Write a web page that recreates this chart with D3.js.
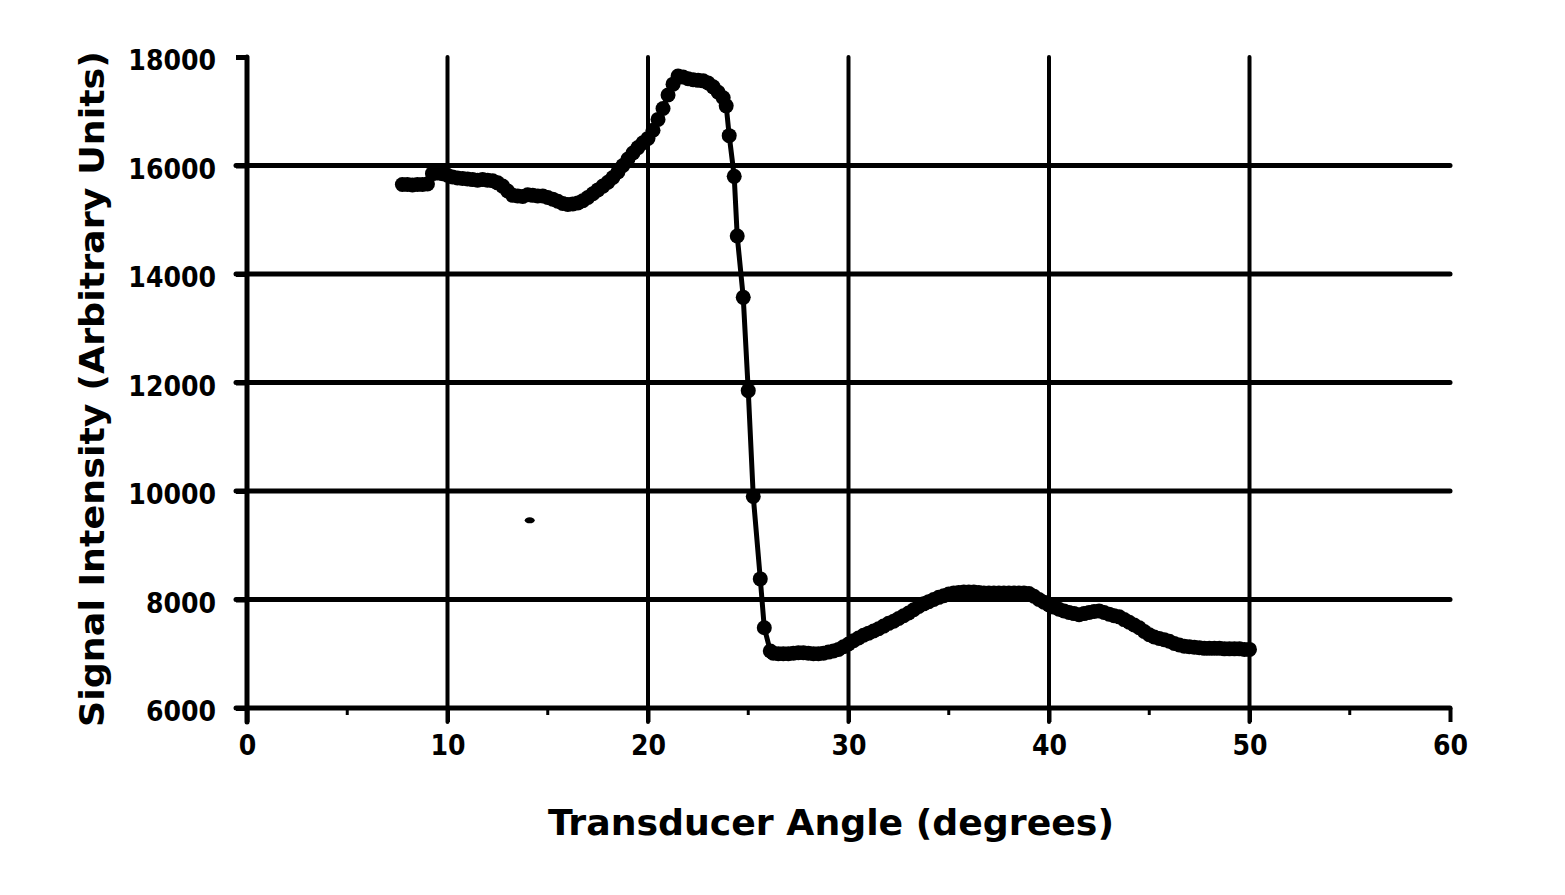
<!DOCTYPE html>
<html>
<head>
<meta charset="utf-8">
<script src="https://cdn.jsdelivr.net/npm/d3@7"></script>
<style>
  html, body { margin: 0; padding: 0; background: #fff; }
  svg { display: block; }
</style>
</head>
<body>
<svg id="chart" width="1565" height="895"></svg>
<script>
// ---- data ----
const angle = [
  7.75, 8.0, 8.25, 8.5, 8.75, 9.0, 9.25, 9.5, 9.75, 10.0, 10.25, 10.5, 10.75, 11.0, 11.25, 11.5, 11.75, 12.0,
  12.25, 12.5, 12.75, 13.0, 13.25, 13.5, 13.75, 14.0, 14.25, 14.5, 14.75, 15.0, 15.25, 15.5, 15.75, 16.0,
  16.25, 16.5, 16.75, 17.0, 17.25, 17.5, 17.75, 18.0, 18.25, 18.5, 18.75, 19.0, 19.25, 19.5, 19.75, 20.0,
  20.25, 20.5, 20.75, 21.0, 21.25, 21.5, 21.75, 22.0, 22.25, 22.5, 22.75, 23.0, 23.25, 23.5, 23.75, 23.9,
  24.05, 24.3, 24.45, 24.75, 25.0, 25.25, 25.6, 25.8, 26.1, 26.25, 26.5, 26.75, 27.0, 27.25, 27.5, 27.75,
  28.0, 28.25, 28.5, 28.75, 29.0, 29.25, 29.5, 29.75, 30.0, 30.25, 30.5, 30.75, 31.0, 31.25, 31.5, 31.75,
  32.0, 32.25, 32.5, 32.75, 33.0, 33.25, 33.5, 33.75, 34.0, 34.25, 34.5, 34.75, 35.0, 35.25, 35.5, 35.75,
  36.0, 36.25, 36.5, 36.75, 37.0, 37.25, 37.5, 37.75, 38.0, 38.25, 38.5, 38.75, 39.0, 39.25, 39.5, 39.75,
  40.0, 40.25, 40.5, 40.75, 41.0, 41.25, 41.5, 41.75, 42.0, 42.25, 42.5, 42.75, 43.0, 43.25, 43.5, 43.75,
  44.0, 44.25, 44.5, 44.75, 45.0, 45.25, 45.5, 45.75, 46.0, 46.25, 46.5, 46.75, 47.0, 47.25, 47.5, 47.75,
  48.0, 48.25, 48.5, 48.75, 49.0, 49.25, 49.5, 49.75, 50.0];
const signal = [
  15650, 15650, 15640, 15650, 15650, 15660, 15850, 15860, 15850, 15820, 15790, 15770, 15760, 15750, 15740, 15730, 15740, 15730,
  15720, 15680, 15620, 15530, 15450, 15440, 15430, 15460, 15450, 15440, 15440, 15410, 15380, 15340, 15300, 15280,
  15290, 15310, 15350, 15410, 15480, 15550, 15620, 15690, 15780, 15880, 16000, 16120, 16230, 16330, 16420, 16500,
  16650, 16850, 17050, 17300, 17500, 17650, 17630, 17600, 17580, 17570, 17560, 17520, 17450, 17350, 17250, 17100,
  16550, 15800, 14700, 13570, 11850, 9900, 8380, 7480, 7050, 7010, 7000, 7000, 7000, 7010, 7020, 7020,
  7010, 7000, 7000, 7010, 7030, 7050, 7080, 7130, 7180, 7240, 7290, 7340, 7380, 7420, 7460, 7510,
  7560, 7600, 7650, 7700, 7750, 7810, 7870, 7920, 7960, 8000, 8040, 8070, 8100, 8120, 8130, 8140,
  8140, 8140, 8130, 8120, 8120, 8120, 8120, 8120, 8120, 8120, 8120, 8120, 8110, 8060, 8000, 7950,
  7900, 7860, 7820, 7790, 7760, 7740, 7720, 7740, 7760, 7780, 7790, 7760, 7730, 7700, 7680, 7630,
  7580, 7530, 7480, 7410, 7350, 7310, 7280, 7260, 7230, 7190, 7160, 7140, 7130, 7120, 7110, 7100,
  7100, 7100, 7100, 7090, 7090, 7090, 7090, 7080, 7080];
const strayAngle = [14.1];
const straySignal = [9460];
const xTicks = [0, 10, 20, 30, 40, 50, 60];
const xMinorTicks = [5, 15, 25, 35, 45, 55];
const xGrid = [10, 20, 30, 40, 50];
const yTicks = [6000, 8000, 10000, 12000, 14000, 16000, 18000];
const yGrid = [8000, 10000, 12000, 14000, 16000];
const xTitle = "Transducer Angle (degrees)";
const yTitle = "Signal Intensity (Arbitrary Units)";

// ---- drawing ----
const svg = d3.select("#chart");
const x = d3.scaleLinear().domain([0, 60]).range([247, 1450]);
const y = d3.scaleLinear().domain([6000, 18000]).range([708, 57]);
const font = "'DejaVu Sans Condensed', 'DejaVu Sans', sans-serif";

// grid
svg.append("g").selectAll("line").data(yGrid).join("line")
  .attr("x1", x(0) - 11).attr("x2", x(60))
  .attr("y1", d => y(d)).attr("y2", d => y(d))
  .attr("stroke", "#000").attr("stroke-width", 5).attr("stroke-linecap", "round");
svg.append("g").selectAll("line").data(xGrid).join("line")
  .attr("x1", d => x(d)).attr("x2", d => x(d))
  .attr("y1", y(18000)).attr("y2", y(6000) + 14)
  .attr("stroke", "#000").attr("stroke-width", 4).attr("stroke-linecap", "round");

// axes
const xAxis = d3.axisBottom(x).tickValues(xTicks).tickSize(14).tickPadding(13).tickFormat(d3.format("d"));
const gx = svg.append("g").attr("transform", `translate(0,${y(6000)})`).call(xAxis);
gx.select(".domain").attr("d", `M${x(0) - 11},0H${x(60)}`).attr("stroke-width", 5).attr("stroke-linecap", "round");
gx.selectAll(".tick line").attr("stroke-width", 4);
gx.selectAll(".tick text").attr("font-family", font).attr("font-weight", "bold").attr("font-size", 28).attr("fill", "#000");
svg.append("g").selectAll("line").data(xMinorTicks).join("line")
  .attr("x1", d => x(d)).attr("x2", d => x(d))
  .attr("y1", y(6000)).attr("y2", y(6000) + 7)
  .attr("stroke", "#000").attr("stroke-width", 3);

const yAxis = d3.axisLeft(y).tickValues(yTicks).tickSize(11).tickPadding(20).tickFormat(d3.format("d"));
const gy = svg.append("g").attr("transform", `translate(${x(0)},0)`).call(yAxis);
gy.select(".domain").attr("d", `M0,${y(18000)}V${y(6000) + 14}`).attr("stroke-width", 5).attr("stroke-linecap", "round");
gy.selectAll(".tick line").attr("stroke-width", 5);
gy.selectAll(".tick text").attr("font-family", font).attr("font-weight", "bold").attr("font-size", 28)
  .attr("fill", "#000").attr("dy", "0.45em");

// titles
svg.append("text").attr("x", 831).attr("y", 835).attr("text-anchor", "middle")
  .attr("font-family", font).attr("font-weight", "bold").attr("font-size", 36)
  .attr("textLength", 566).attr("lengthAdjust", "spacingAndGlyphs").text(xTitle);
svg.append("text").attr("transform", "translate(104,389) rotate(-90)").attr("text-anchor", "middle")
  .attr("font-family", font).attr("font-weight", "bold").attr("font-size", 34)
  .attr("textLength", 676).attr("lengthAdjust", "spacingAndGlyphs").text(yTitle);

// series
const pts = angle.map((a, i) => [a, signal[i]]);
svg.append("path").datum(pts)
  .attr("d", d3.line().x(d => x(d[0])).y(d => y(d[1])))
  .attr("fill", "none").attr("stroke", "#000").attr("stroke-width", 5).attr("stroke-linejoin", "round");
svg.append("g").selectAll("circle").data(pts).join("circle")
  .attr("cx", d => x(d[0])).attr("cy", d => y(d[1])).attr("r", 7.5).attr("fill", "#000");
svg.append("g").selectAll("ellipse").data(strayAngle.map((a, i) => [a, straySignal[i]])).join("ellipse")
  .attr("cx", d => x(d[0])).attr("cy", d => y(d[1])).attr("rx", 5).attr("ry", 3).attr("fill", "#000");
</script>
</body>
</html>
